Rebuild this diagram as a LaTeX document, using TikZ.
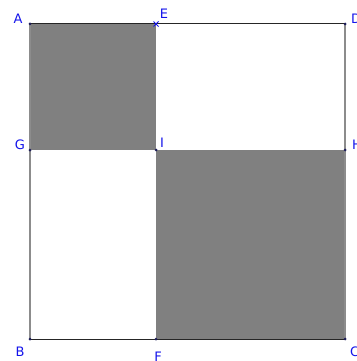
\documentclass[tikz,border=0pt]{standalone}
\usepackage{fontspec}
\setmainfont{DejaVu Sans}
\usetikzlibrary{calc}
\definecolor{lbl}{RGB}{20,20,235}
\definecolor{pt}{RGB}{30,30,90}
\definecolor{fillg}{RGB}{128,128,128}
\tikzset{
  lab/.style={text=lbl,font=\fontsize{13}{13}\selectfont,inner sep=0pt},
  dot/.style={fill=pt},
  hedge/.style={draw=black!85,line width=1pt},
  vedge/.style={draw=black!45,line width=1.6pt},
  shade/.style={fill=fillg}
}
\begin{document}
\begin{tikzpicture}[x=1pt,y=-1pt]
\useasboundingbox (0,0) rectangle (356,361);
\fill[white] (0,0) rectangle (356,361);
\coordinate (A) at (30,24);
\coordinate (E) at (156,24);
\coordinate (D) at (345,24);
\coordinate (G) at (30,150);
\coordinate (I) at (156,150);
\coordinate (H) at (345,150);
\coordinate (B) at (30,339);
\coordinate (F) at (156,339);
\coordinate (C) at (345,339);
\fill[shade] (A) rectangle (I);
\fill[shade] (I) rectangle (C);
\draw[vedge] (A) -- (B);
\draw[vedge] (D) -- (C);
\draw[hedge] (A) -- (D);
\draw[hedge] (B) -- (C);
\foreach \p in {A,D,G,I,H,B,F,C} \fill[dot] (\p) circle (1.5);
\draw[lbl,line width=1pt] ($(E)+(-2.5,-2.5)$) -- ($(E)+(2.5,2.5)$) ($(E)+(-2.5,2.5)$) -- ($(E)+(2.5,-2.5)$);
\node[lab] (lA) at (18,19) {A};
\node[lab] (lE) at (164,14) {E};
\node[lab,anchor=west] (lD) at (351,19) {D};
\node[lab] (lG) at (20,145) {G};
\node[lab] (lI) at (162,143) {I};
\node[lab,anchor=west] (lH) at (352,145) {H};
\node[lab] (lB) at (20,352) {B};
\node[lab] (lF) at (158,357) {F};
\node[lab,anchor=west] (lC) at (350,352) {C};
\end{tikzpicture}
\end{document}
